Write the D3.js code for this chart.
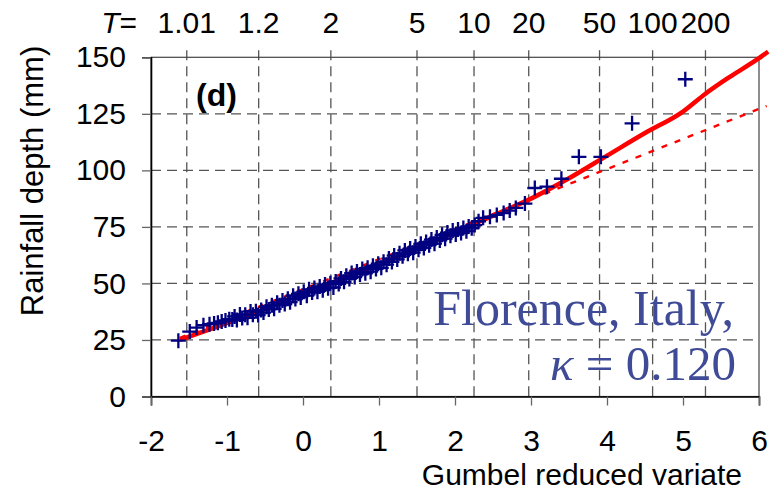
<!DOCTYPE html>
<html>
<head>
<meta charset="utf-8">
<script src="https://cdn.jsdelivr.net/npm/d3@7"></script>
<style>
  body { margin: 0; background: #fff; }
  svg { display: block; }
  text { font-family: "Liberation Sans", Arial, sans-serif; fill: #000; }
  .serif { font-family: "Liberation Serif", "Times New Roman", serif; fill: #3f4b96; }
</style>
</head>
<body>
<div id="vis"></div>
<script>
const ctx = {
    w: 773,
    h: 492,
    left: 151,
    right: 759,
    top: 57.3,
    bottom: 396.5
};

// return periods shown on the top axis
const returnPeriods = [1.01, 1.2, 2, 5, 10, 20, 50, 100, 200];
const returnLabels = ["1.01", "1.2", "2", "5", "10", "20", "50", "100", "200"];
const xTicks = [-2, -1, 0, 1, 2, 3, 4, 5, 6];
const yTicks = [0, 25, 50, 75, 100, 125, 150];

// observed annual maxima: [Gumbel reduced variate, rainfall depth mm]
const observed = [
    [-1.64, 24.7], [-1.49, 28.7], [-1.40, 30.5], [-1.31, 31.5], [-1.23, 32.0],
    [-1.17, 32.3], [-1.12, 32.6], [-1.07, 33.2], [-1.02, 33.6], [-0.97, 34.2],
    [-0.93, 34.0], [-0.90, 35.4], [-0.87, 33.8], [-0.83, 36.3], [-0.80, 34.7],
    [-0.76, 36.2], [-0.73, 34.8], [-0.69, 37.6], [-0.66, 36.1], [-0.62, 37.7],
    [-0.59, 36.0], [-0.55, 38.2], [-0.52, 37.1], [-0.48, 39.7], [-0.45, 38.5],
    [-0.41, 40.4], [-0.38, 38.8], [-0.34, 41.5], [-0.31, 40.3], [-0.27, 42.5],
    [-0.24, 40.9], [-0.20, 43.2], [-0.17, 41.7], [-0.13, 44.6], [-0.10, 43.1],
    [-0.06, 45.4], [-0.03, 43.8], [0.01, 46.3], [0.05, 44.6], [0.08, 47.4],
    [0.12, 46.0], [0.15, 48.0], [0.19, 46.3], [0.22, 48.6], [0.26, 47.0],
    [0.29, 49.5], [0.33, 47.9], [0.36, 50.1], [0.40, 48.2], [0.43, 50.9],
    [0.47, 49.8], [0.50, 52.2], [0.54, 50.7], [0.57, 53.4], [0.61, 52.0],
    [0.64, 54.6], [0.68, 52.8], [0.71, 55.3], [0.75, 54.0], [0.78, 56.4],
    [0.82, 54.5], [0.85, 56.9], [0.89, 55.2], [0.92, 57.8], [0.96, 56.4],
    [0.99, 58.7], [1.03, 56.9], [1.06, 59.6], [1.10, 58.3], [1.13, 61.0],
    [1.17, 59.5], [1.20, 62.3], [1.24, 60.6], [1.27, 63.3], [1.31, 62.0],
    [1.34, 64.6], [1.38, 63.1], [1.41, 65.4], [1.45, 63.6], [1.48, 66.3],
    [1.52, 64.9], [1.55, 67.5], [1.59, 65.7], [1.62, 68.3], [1.66, 66.9],
    [1.69, 69.4], [1.73, 67.6], [1.76, 70.3], [1.80, 69.0], [1.83, 71.5],
    [1.87, 69.8], [1.90, 72.5], [1.94, 71.1], [1.97, 73.4], [2.01, 71.6],
    [2.04, 73.8], [2.08, 72.3], [2.11, 74.5], [2.15, 73.1], [2.18, 75.2],
    [2.22, 74.4], [2.26, 75.8], [2.31, 77.5], [2.37, 79.0], [2.46, 79.5],
    [2.55, 80.3], [2.64, 81.1], [2.72, 82.2], [2.80, 83.4], [2.92, 85.3],
    [3.05, 92.2], [3.21, 92.8], [3.40, 96.3], [3.63, 106.0], [3.92, 106.0],
    [4.33, 120.8], [5.03, 140.3]
];

// fitted GEV curve (solid)
const gevFit = [
    [-1.62, 25.0], [-1.2, 30.0], [-0.8, 35.0], [-0.4, 40.0], [0, 45.6],
    [0.5, 51.8], [1.0, 58.5], [1.5, 65.5], [2.0, 72.5], [2.5, 80.0],
    [3.0, 87.5], [3.5, 96.5], [4.0, 106.5], [4.5, 116.5], [5.0, 126.0],
    [5.3, 134.0], [5.6, 141.0], [6.0, 149.6], [6.12, 152.5]
];

// fitted Gumbel line (dashed)
const gumbelFit = [[-1.62, 25.9], [6.1, 128.5]];

function reducedVariate(T) {
    return -Math.log(-Math.log(1 - 1 / T));
}

function vizualisation() {
    let svg = d3.select("#vis").append("svg")
        .attr("width", ctx.w)
        .attr("height", ctx.h);

    let xScale = d3.scaleLinear().domain([-2, 6]).range([ctx.left, ctx.right]);
    let yScale = d3.scaleLinear().domain([0, 150]).range([ctx.bottom, ctx.top]);

    let bkg = svg.append("g").attr("id", "bkgG");

    // horizontal grid
    bkg.selectAll("line.hgrid")
        .data(yTicks.filter(d => d > 0 && d < 150))
        .enter().append("line")
        .attr("x1", ctx.left).attr("x2", ctx.right)
        .attr("y1", d => yScale(d)).attr("y2", d => yScale(d))
        .style("stroke", "#555").style("stroke-width", 1.3)
        .style("stroke-dasharray", "10,6");

    // vertical grid at return periods
    bkg.selectAll("line.vgrid")
        .data(returnPeriods)
        .enter().append("line")
        .attr("x1", d => xScale(reducedVariate(d))).attr("x2", d => xScale(reducedVariate(d)))
        .attr("y1", ctx.top - 7).attr("y2", ctx.bottom)
        .style("stroke", "#555").style("stroke-width", 1.3)
        .style("stroke-dasharray", "10,6");

    // frame top / right
    bkg.append("rect")
        .attr("x", ctx.left).attr("y", ctx.top)
        .attr("width", ctx.right - ctx.left).attr("height", ctx.bottom - ctx.top)
        .style("fill", "none").style("stroke", "#444").style("stroke-width", 1.2);

    // y axis
    let yAxis = bkg.append("g")
        .attr("transform", `translate(${ctx.left},0)`)
        .call(d3.axisLeft(yScale).tickValues(yTicks).tickSize(9).tickPadding(16));
    yAxis.select(".domain").style("stroke", "#000").style("stroke-width", 1.6);
    yAxis.selectAll(".tick line").style("stroke", "#666").style("stroke-width", 1.3);
    yAxis.selectAll("text").style("font-size", "30px").style("font-family", "Liberation Sans, Arial, sans-serif");

    // x axis
    let xAxis = bkg.append("g")
        .attr("transform", `translate(0,${ctx.bottom})`)
        .call(d3.axisBottom(xScale).tickValues(xTicks).tickSize(9).tickPadding(24)
              .tickFormat(d => d < 0 ? "-" + Math.abs(d) : d));
    xAxis.select(".domain").style("stroke", "#000").style("stroke-width", 1.6);
    xAxis.selectAll(".tick line").style("stroke", "#666").style("stroke-width", 1.3);
    xAxis.selectAll("text").style("font-size", "30px").style("font-family", "Liberation Sans, Arial, sans-serif");

    // top return period labels
    bkg.selectAll("text.tlab")
        .data(returnPeriods)
        .enter().append("text")
        .attr("x", d => xScale(reducedVariate(d)))
        .attr("y", 33)
        .style("text-anchor", "middle")
        .style("font-size", "30px")
        .text((d, i) => returnLabels[i]);

    let tLab = bkg.append("text")
        .attr("x", 137).attr("y", 33)
        .style("text-anchor", "end")
        .style("font-size", "30px");
    tLab.append("tspan").style("font-style", "italic").text("T");
    tLab.append("tspan").text("=");

    // axis titles
    bkg.append("text")
        .attr("transform", `translate(43,181) rotate(-90)`)
        .style("text-anchor", "middle")
        .style("font-size", "31px")
        .text("Rainfall depth (mm)");

    bkg.append("text")
        .attr("x", 742).attr("y", 485)
        .style("text-anchor", "end")
        .style("font-size", "30px")
        .text("Gumbel reduced variate");

    bkg.append("text")
        .attr("x", 196).attr("y", 106)
        .style("font-size", "32px").style("font-weight", "bold")
        .text("(d)");

    // fitted lines
    let line = d3.line().x(d => xScale(d[0])).y(d => yScale(d[1]));
    let rootG = svg.append("g").attr("id", "rootG");

    rootG.append("path")
        .datum(gumbelFit)
        .attr("d", line)
        .style("fill", "none").style("stroke", "#ff0000")
        .style("stroke-width", 2.4).style("stroke-dasharray", "6,8");

    rootG.append("path")
        .datum(gevFit)
        .attr("d", d3.line().curve(d3.curveMonotoneX).x(d => xScale(d[0])).y(d => yScale(d[1])))
        .style("fill", "none").style("stroke", "#ff0000")
        .style("stroke-width", 4.5);

    // observed points
    rootG.selectAll("path.obs")
        .data(observed)
        .enter().append("path")
        .attr("d", "M-7.5,0H7.5M0,-7.5V7.5")
        .attr("transform", d => `translate(${xScale(d[0])},${yScale(d[1])})`)
        .style("fill", "none").style("stroke", "#000080").style("stroke-width", 2.3);

    // station label
    svg.append("text")
        .classed("serif", true)
        .attr("x", 734).attr("y", 325)
        .style("text-anchor", "end")
        .style("font-size", "50px")
        .text("Florence, Italy,");

    let kLab = svg.append("text")
        .classed("serif", true)
        .attr("x", 736).attr("y", 380)
        .style("text-anchor", "end")
        .style("font-size", "49px");
    kLab.append("tspan").style("font-style", "italic").text("κ");
    kLab.append("tspan").text(" = 0.120");
}

vizualisation();
</script>
</body>
</html>
